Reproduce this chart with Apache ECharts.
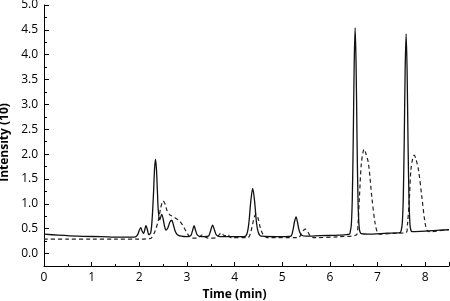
<!DOCTYPE html>
<html>
<head>
<meta charset="utf-8">
<script src="https://cdn.jsdelivr.net/npm/echarts@6/dist/echarts.min.js"></script>
<style>
html,body{margin:0;padding:0;background:#fff;}
#chart{width:450px;height:301px;}
</style>
</head>
<body>
<div id="chart"></div>
<script>
// Time (min), intensity
var solidTime = [0.00,0.30,0.70,1.20,1.60,1.90,1.96,2.00,2.03,2.06,2.09,2.12,2.14,2.17,2.20,2.24,2.27,2.30,2.32,2.34,2.36,2.38,2.40,2.43,2.47,2.50,2.53,2.56,2.60,2.64,2.68,2.71,2.75,2.80,2.88,3.00,3.08,3.12,3.15,3.18,3.22,3.30,3.45,3.49,3.54,3.58,3.62,3.70,4.20,4.26,4.30,4.34,4.38,4.42,4.46,4.50,4.56,5.00,5.18,5.22,5.26,5.29,5.32,5.36,5.41,5.50,5.80,6.20,6.41,6.43,6.45,6.47,6.49,6.51,6.53,6.55,6.57,6.59,6.61,6.63,6.66,6.80,7.20,7.47,7.50,7.52,7.54,7.56,7.58,7.60,7.62,7.64,7.66,7.68,7.70,7.73,8.00,8.30,8.50];
var solidIntensity = [0.39,0.37,0.35,0.34,0.33,0.33,0.37,0.47,0.52,0.45,0.40,0.50,0.56,0.48,0.38,0.42,0.70,1.25,1.70,1.90,1.70,1.25,0.85,0.68,0.79,0.70,0.55,0.47,0.52,0.63,0.67,0.60,0.46,0.38,0.35,0.34,0.36,0.47,0.56,0.47,0.37,0.34,0.35,0.44,0.57,0.47,0.37,0.34,0.34,0.40,0.62,1.05,1.31,1.05,0.62,0.42,0.35,0.34,0.35,0.45,0.65,0.74,0.63,0.45,0.37,0.35,0.36,0.37,0.39,0.45,0.58,1.09,2.28,3.80,4.54,3.80,2.28,1.09,0.58,0.44,0.40,0.39,0.41,0.42,0.48,0.62,1.11,2.25,3.71,4.42,3.71,2.25,1.11,0.60,0.47,0.44,0.45,0.47,0.48];

var dashedTime = [0.00,0.50,1.00,1.50,2.00,2.20,2.25,2.33,2.40,2.45,2.50,2.55,2.58,2.64,2.70,2.78,2.86,2.94,3.00,3.05,3.10,3.22,3.28,3.33,3.38,3.45,3.62,3.67,3.72,3.77,3.82,3.86,3.92,4.28,4.33,4.38,4.42,4.45,4.49,4.54,4.60,4.68,5.34,5.40,5.45,5.49,5.54,5.59,5.66,6.20,6.56,6.59,6.62,6.66,6.70,6.72,6.75,6.81,6.88,6.95,7.00,7.04,7.40,7.60,7.63,7.67,7.70,7.74,7.77,7.80,7.86,7.93,8.00,8.05,8.10,8.30,8.50];
var dashedIntensity = [0.29,0.29,0.29,0.29,0.29,0.30,0.31,0.45,0.67,0.92,1.06,0.98,0.87,0.78,0.75,0.70,0.64,0.52,0.42,0.34,0.31,0.31,0.35,0.38,0.34,0.31,0.32,0.37,0.42,0.37,0.36,0.38,0.32,0.32,0.40,0.60,0.75,0.79,0.72,0.52,0.38,0.32,0.32,0.40,0.47,0.49,0.43,0.35,0.32,0.34,0.38,0.60,1.14,1.81,2.06,2.10,2.03,1.81,1.14,0.60,0.42,0.39,0.41,0.42,0.60,1.14,1.68,1.92,1.98,1.92,1.68,1.14,0.60,0.45,0.44,0.46,0.48];

var xTicks = [0,1,2,3,4,5,6,7,8];
var yLabelValues = [0.0,0.5,1.0,1.5,2.0,2.5,3.0,3.5,4.0,4.5,5.0];

function pairs(xs, ys){ var out=[]; for(var i=0;i<xs.length;i++){ out.push([xs[i], ys[i]]); } return out; }

var FONT = 'Open Sans';
var chart = echarts.init(document.getElementById('chart'), null, {renderer:'canvas'});
chart.setOption({
  animation:false,
  backgroundColor:'#ffffff',
  grid:{left:44, right:1, top:5, bottom:35, containLabel:false, outerBoundsMode:'none'},
  xAxis:{
    type:'value', min:0, max:8.5, interval:1,
    name:'Time (min)', nameLocation:'middle', nameGap:19,
    nameTextStyle:{fontFamily:FONT, fontWeight:'bold', fontSize:12, color:'#000', padding:[0,24,0,0]},
    axisLine:{show:true, onZero:false, lineStyle:{color:'#000', width:1}},
    axisTick:{show:true, inside:true, length:4, lineStyle:{color:'#000'}},
    minorTick:{show:true, splitNumber:2, length:2, lineStyle:{color:'#000'}},
    axisLabel:{fontFamily:FONT, fontSize:12, color:'#000', margin:6,
      customValues: xTicks,
      formatter:function(v){ return String(v); }},
    splitLine:{show:false}
  },
  yAxis:[{
    type:'value', min:-0.25, max:5, interval:0.25, position:'left',
    name:'Intensity (10)', nameLocation:'middle', nameGap:30,
    nameTextStyle:{fontFamily:FONT, fontWeight:'bold', fontSize:12, color:'#000', padding:[0,14,0,0]},
    axisLine:{show:true, onZero:false, lineStyle:{color:'#000', width:1}},
    axisTick:{show:true, inside:true, length:3, lineStyle:{color:'#000'}},
    axisLabel:{fontFamily:FONT, fontSize:12, color:'#000', margin:6,
      customValues: yLabelValues,
      formatter:function(v){ return v.toFixed(1); }},
    splitLine:{show:false}
  },{
    type:'value', min:-0.25, max:5, position:'left', offset:0,
    axisLine:{show:false},
    axisTick:{show:true, inside:true, length:5, customValues: yLabelValues, lineStyle:{color:'#000'}},
    axisLabel:{show:false},
    splitLine:{show:false}
  }],
  series:[{
    type:'line', name:'solid', data:pairs(solidTime, solidIntensity),
    showSymbol:false, smooth:0.3, lineStyle:{color:'#111', width:1.3, type:'solid'}, z:3
  },{
    type:'line', name:'dashed', data:pairs(dashedTime, dashedIntensity),
    showSymbol:false, smooth:0.3, lineStyle:{color:'#222', width:1.2, type:[4,3]}, z:2
  }]
});
</script>
</body>
</html>
